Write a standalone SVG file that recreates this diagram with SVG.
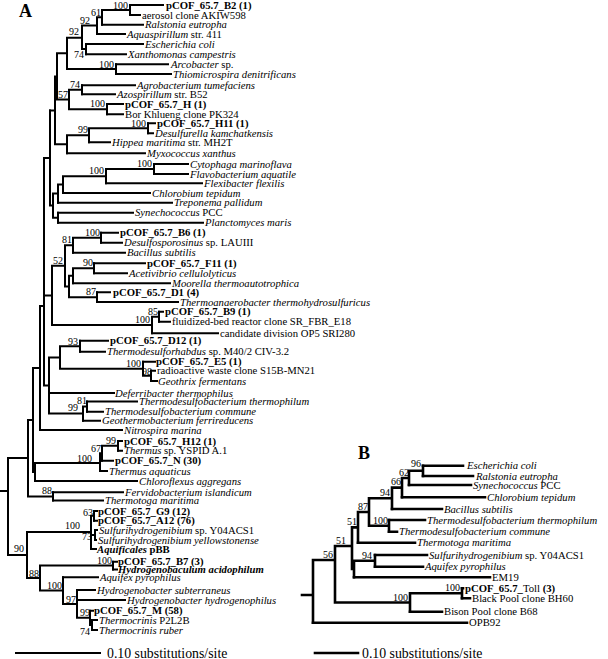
<svg xmlns="http://www.w3.org/2000/svg" width="608" height="659" viewBox="0 0 608 659">
<style>
text{font-family:"Liberation Serif","Times New Roman",serif;font-size:10.7px;fill:#000}
.i{font-style:italic}.bd{font-weight:bold}
.bs{font-size:10px;text-anchor:end}
.ttl{font-size:18px;font-weight:bold}
.sc{font-size:13.8px}
.ba path{stroke:#000;stroke-width:2;fill:none;stroke-linecap:square}
.bb path{stroke:#000;stroke-width:2.6;fill:none;stroke-linecap:square}
</style>
<rect width="608" height="659" fill="#fff"/>
<g id="connectors-A" class="ba">
<path d="M130,5H163M130,15H140M102,24.7H143M97,34H125M86,44H143M86,54.3H126M116,64.3H168M116,74H171M82,85.3H135M82,94.3H115M107,104H123M107,114.3H123M148,123.3H155M148,133.3H153M89,142.3H110M67,153.3H145M154,164H188M154,174H188M106,183.3H202M63,193H150M58,202.7H172M58,212.7H133M58,222.7H203M101,232.7H118M101,242.7H122M73,252.7H125M94,263.3H145M94,273.3H127M73,283.3H170M97,292.3H110M97,302H178M159,311.7H163M159,321.7H170M152,333.3H218M80,340.7H108M80,351.7H105M143,361.7H155M151,370.7H155M151,381H157M49,393H114M87,401.5H137M87,411.7H103M83,420.7H100M40,430H122M118,441H122M118,450.7H122M102,460.7H113M100,471H107M35,481H137M53,492.3H123M53,500.5H103M94,511H97M94,520.7H97M95,530H97M95,540H96M91,549H96M113,561.7H117M113,569.5H117M63,577.3H98M77,590H95M77,600H125M90,610.7H93M92,620H97M92,630H97"/>
<path d="M130,5V15M102,10H130M102,10V24.7M97,17.3H102M97,17.3V34M82,25.6H97M86,44V54.3M82,49H86M82,25.6V49M67,37.7H82M116,64.3V74M67,69H116M67,37.7V69M57,53.3H67M82,85.3V94.3M69,89.8H82M107,104V114.3M69,109.2H107M69,89.8V109.2M57,99.5H69M57,53.3V99.5M55,76.4H57M148,123.3V133.3M89,128.3H148M89,128.3V142.3M67,135.3H89M67,135.3V153.3M55,144.3H67M55,76.4V144.3M50,110.4H55"/>
<path d="M154,164V174M106,169H154M106,169V183.3M63,176.2H106M63,176.2V193M58,184.6H63M58,184.6V202.7M53,193.6H58M58,212.7V222.7M53,217.7H58M53,193.6V217.7M50,205.6H53M50,110.4V205.6M44,158H50"/>
<path d="M101,232.7V242.7M73,237.7H101M73,237.7V252.7M65,245.2H73M94,263.3V273.3M73,268.3H94M73,268.3V283.3M69,275.8H73M97,292.3V302M69,297.2H97M69,275.8V297.2M65,286.5H69M65,245.2V286.5M52,265.8H65M159,311.7V321.7M152,316.7H159M152,316.7V333.3M52,325H152M52,265.8V325M44,295.4H52"/>
<path d="M80,340.7V351.7M60,346.2H80M151,370.7V381M143,375.8H151M143,361.7V375.8M60,368.8H143M60,346.2V368.8M49,357.5H60M87,401.5V411.7M83,406.6H87M83,406.6V420.7M49,413.6H83M49,357.5V413.6M44,385.5H49M44,158V385.5M40,306H44M40,306V430M33,368H40"/>
<path d="M118,441V450.7M102,445.8H118M102,445.8V460.7M100,453.2H102M100,453.2V471M35,463H100M35,463V481M33,472H35M33,368V472M28,420H33M53,492.3V500.5M28,496.4H53M28,420V496.4M8,458H28"/>
<path d="M94,511V520.7M91,515.8H94M95,530V540M91,535H95M91,515.8V549M27,532H91M113,561.7V569.5M40,565.6H113M92,620V630M90,625H92M90,610.7V625M77,617.8H90M77,590V617.8M63,604H77M63,577.3V604M40,590.6H63M40,565.6V590.6M27,578H40M27,532V578M8,555H27M8,458V555M0,491H8"/>
<path d="M16,653H100"/>
</g>
<g id="connectors-B" class="bb">
<path d="M423,465.7H463M423,476H473M409,485H471M402,497.3H485M392,509H442M389,520H425M389,531.7H397M358,542.7H415M375,555H427M375,566.7H423M354,577.3H490M462,588.3H463M462,598.3H470M410,611.7H442M313,622.7H467"/>
<path d="M423,465.7V476M409,470.8H423M409,470.8V485M402,478H409M402,478V497.3M392,487.6H402M392,487.6V509M369,498.3H392M389,520V531.7M369,525.8H389M369,498.3V525.8M358,512H369M358,512V542.7M352,527.4H358M375,555V566.7M354,560.8H375M354,560.8V577.3M352,569H354M352,527.4V569M335,546H352M462,588.3V598.3M410,593.3H462M410,593.3V611.7M335,602.5H410M335,546V602.5M313,560H335M313,560V622.7M302,595H313"/>
<path d="M315,653H358"/>
</g>
<g id="title-A"><text class="ttl" x="19" y="17">A</text></g>
<g id="title-B"><text class="ttl" x="358" y="459">B</text></g>
<g id="leaves-A">
<g id="a1"><text x="166" y="8.7" class="bd">pCOF_65.7_B2 (1)</text></g>
<g id="a2"><text x="142" y="18.7">aerosol clone AKIW598</text></g>
<g id="a3"><text x="145" y="28.4" class="i">Ralstonia eutropha</text></g>
<g id="a4"><text x="127" y="37.7"><tspan class="i">Aquaspirillum</tspan> str. 411</text></g>
<g id="a5"><text x="145" y="47.7" class="i">Escherichia coli</text></g>
<g id="a6"><text x="128" y="58" class="i">Xanthomonas campestris</text></g>
<g id="a7"><text x="171" y="68"><tspan class="i">Arcobacter</tspan> sp.</text></g>
<g id="a8"><text x="173" y="77.7" class="i">Thiomicrospira denitrificans</text></g>
<g id="a9"><text x="137" y="89" class="i">Agrobacterium tumefaciens</text></g>
<g id="a10"><text x="117" y="98"><tspan class="i">Azospirillum</tspan> str. B52</text></g>
<g id="a11"><text x="125" y="107.7" class="bd">pCOF_65.7_H (1)</text></g>
<g id="a12"><text x="125" y="118">Bor Khlueng clone PK324</text></g>
<g id="a13"><text x="157" y="127" class="bd">pCOF_65.7_H11 (1)</text></g>
<g id="a14"><text x="155" y="137" class="i">Desulfurella kamchatkensis</text></g>
<g id="a15"><text x="112" y="146"><tspan class="i">Hippea maritima</tspan> str. MH2T</text></g>
<g id="a16"><text x="147" y="157" class="i">Myxococcus xanthus</text></g>
<g id="a17"><text x="190" y="167.7" class="i">Cytophaga marinoflava</text></g>
<g id="a18"><text x="190" y="177.7" class="i">Flavobacterium aquatile</text></g>
<g id="a19"><text x="204" y="187" class="i">Flexibacter flexilis</text></g>
<g id="a20"><text x="152" y="196.7" class="i">Chlorobium tepidum</text></g>
<g id="a21"><text x="174" y="206.4" class="i">Treponema pallidum</text></g>
<g id="a22"><text x="135" y="216.4"><tspan class="i">Synechococcus</tspan> PCC</text></g>
<g id="a23"><text x="205" y="226.4" class="i">Planctomyces maris</text></g>
<g id="a24"><text x="120" y="236.4" class="bd">pCOF_65.7_B6 (1)</text></g>
<g id="a25"><text x="124" y="246.4"><tspan class="i">Desulfosporosinus</tspan> sp. LAUIII</text></g>
<g id="a26"><text x="127" y="256.4" class="i">Bacillus subtilis</text></g>
<g id="a27"><text x="147" y="267" class="bd">pCOF_65.7_F11 (1)</text></g>
<g id="a28"><text x="129" y="277" class="i">Acetivibrio cellulolyticus</text></g>
<g id="a29"><text x="172" y="287" class="i">Moorella thermoautotrophica</text></g>
<g id="a30"><text x="113" y="296" class="bd">pCOF_65.7_D1 (4)</text></g>
<g id="a31"><text x="180" y="305.7" class="i">Thermoanaerobacter thermohydrosulfuricus</text></g>
<g id="a32"><text x="165" y="315.4" class="bd">pCOF_65.7_B9 (1)</text></g>
<g id="a33"><text x="172" y="325.4">fluidized-bed reactor clone SR_FBR_E18</text></g>
<g id="a34"><text x="220" y="337">candidate division OP5 SRI280</text></g>
<g id="a35"><text x="110" y="344.4" class="bd">pCOF_65.7_D12 (1)</text></g>
<g id="a36"><text x="107" y="355.4"><tspan class="i">Thermodesulforhabdus</tspan> sp. M40/2 CIV-3.2</text></g>
<g id="a37"><text x="156" y="365.4" class="bd">pCOF_65.7_E5 (1)</text></g>
<g id="a38"><text x="157" y="374.4">radioactive waste clone S15B-MN21</text></g>
<g id="a39"><text x="158" y="384.7" class="i">Geothrix fermentans</text></g>
<g id="a40"><text x="115" y="396.7" class="i">Deferribacter thermophilus</text></g>
<g id="a41"><text x="139" y="405.2" class="i">Thermodesulfobacterium thermophilum</text></g>
<g id="a42"><text x="105" y="415.4" class="i">Thermodesulfobacterium commune</text></g>
<g id="a43"><text x="102" y="424.4" class="i">Geothermobacterium ferrireducens</text></g>
<g id="a44"><text x="124" y="433.7" class="i">Nitrospira marina</text></g>
<g id="a45"><text x="124" y="444.7" class="bd">pCOF_65.7_H12 (1)</text></g>
<g id="a46"><text x="124" y="454.4"><tspan class="i">Thermus</tspan> sp. YSPID A.1</text></g>
<g id="a47"><text x="115" y="464.4" class="bd">pCOF_65.7_N (30)</text></g>
<g id="a48"><text x="109" y="474.7" class="i">Thermus aquaticus</text></g>
<g id="a49"><text x="139" y="484.7" class="i">Chloroflexus aggregans</text></g>
<g id="a50"><text x="125" y="496" class="i">Fervidobacterium islandicum</text></g>
<g id="a51"><text x="105" y="504.2" class="i">Thermotoga maritima</text></g>
<g id="a52"><text x="98" y="514.7" class="bd">pCOF_65.7_G9 (12)</text></g>
<g id="a53"><text x="98" y="524.4" class="bd">pCOF_65.7_A12 (76)</text></g>
<g id="a54"><text x="99" y="533.7"><tspan class="i">Sulfurihydrogenibium</tspan> sp. Y04ACS1</text></g>
<g id="a55"><text x="98" y="543.7" class="i">Sulfurihydrogenibium yellowstonense</text></g>
<g id="a56"><text x="97" y="552.7" class="bd"><tspan class="i">Aquificales</tspan> pBB</text></g>
<g id="a57"><text x="118" y="565.4" class="bd">pCOF_65.7_B7 (3)</text></g>
<g id="a58"><text x="118" y="573.2" class="bd i">Hydrogenobaculum acidophilum</text></g>
<g id="a59"><text x="100" y="581" class="i">Aquifex pyrophilus</text></g>
<g id="a60"><text x="97" y="593.7" class="i">Hydrogenobacter subterraneus</text></g>
<g id="a61"><text x="127" y="603.7" class="i">Hydrogenobacter hydrogenophilus</text></g>
<g id="a62"><text x="94" y="614.4" class="bd">pCOF_65.7_M (58)</text></g>
<g id="a63"><text x="99" y="623.7"><tspan class="i">Thermocrinis</tspan> P2L2B</text></g>
<g id="a64"><text x="99" y="633.7" class="i">Thermocrinis ruber</text></g>
</g>
<g id="support-A">
<text class="bs" x="128" y="8.5">100</text>
<text class="bs" x="101" y="15.5">61</text>
<text class="bs" x="90" y="24">92</text>
<text class="bs" x="84" y="57.5">74</text>
<text class="bs" x="79" y="35">92</text>
<text class="bs" x="114" y="67.5">100</text>
<text class="bs" x="80" y="88">74</text>
<text class="bs" x="68" y="97.5">57</text>
<text class="bs" x="105" y="107">100</text>
<text class="bs" x="146" y="126.5">100</text>
<text class="bs" x="88" y="133">99</text>
<text class="bs" x="152" y="166.5">100</text>
<text class="bs" x="104" y="174">100</text>
<text class="bs" x="100" y="236">100</text>
<text class="bs" x="72" y="243">81</text>
<text class="bs" x="63" y="263.5">52</text>
<text class="bs" x="93" y="266">90</text>
<text class="bs" x="96" y="295">87</text>
<text class="bs" x="158" y="315">85</text>
<text class="bs" x="150" y="323">100</text>
<text class="bs" x="78" y="344.5">93</text>
<text class="bs" x="141" y="366.7">100</text>
<text class="bs" x="152" y="375">98</text>
<text class="bs" x="87" y="403.5">81</text>
<text class="bs" x="78" y="411">99</text>
<text class="bs" x="116" y="443.5">99</text>
<text class="bs" x="101" y="452">67</text>
<text class="bs" x="92" y="462">100</text>
<text class="bs" x="52" y="493.5">88</text>
<text class="bs" x="93" y="516">63</text>
<text class="bs" x="80" y="529">100</text>
<text class="bs" x="92" y="539.5">73</text>
<text class="bs" x="24" y="551.5">90</text>
<text class="bs" x="112" y="564">100</text>
<text class="bs" x="39" y="577">88</text>
<text class="bs" x="62" y="589">100</text>
<text class="bs" x="76" y="602.5">97</text>
<text class="bs" x="90" y="616">99</text>
<text class="bs" x="90" y="635">74</text>
</g>
<g id="scale-A"><text class="sc" x="107" y="657.5">0.10 substitutions/site</text></g>
<g id="leaves-B">
<g id="b1"><text x="467" y="469.4" class="i">Escherichia coli</text></g>
<g id="b2"><text x="476" y="479.7" class="i">Ralstonia eutropha</text></g>
<g id="b3"><text x="473" y="488.7"><tspan class="i">Synechococcus</tspan> PCC</text></g>
<g id="b4"><text x="487" y="501" class="i">Chlorobium tepidum</text></g>
<g id="b5"><text x="444" y="512.7" class="i">Bacillus subtilis</text></g>
<g id="b6"><text x="427" y="523.7" class="i">Thermodesulfobacterium thermophilum</text></g>
<g id="b7"><text x="399" y="535.4" class="i">Thermodesulfobacterium commune</text></g>
<g id="b8"><text x="417" y="546.4" class="i">Thermotoga maritima</text></g>
<g id="b9"><text x="429" y="558.7"><tspan class="i">Sulfurihydrogenibium</tspan> sp. Y04ACS1</text></g>
<g id="b10"><text x="425" y="570.4" class="i">Aquifex pyrophilus</text></g>
<g id="b11"><text x="492" y="581">EM19</text></g>
<g id="b12"><text x="465" y="592"><tspan class="bd">pCOF_65.7_</tspan>Toll <tspan class="bd">(3)</tspan></text></g>
<g id="b13"><text x="472" y="602">Black Pool clone BH60</text></g>
<g id="b14"><text x="444" y="615.4">Bison Pool clone B68</text></g>
<g id="b15"><text x="469" y="626.4">OPB92</text></g>
</g>
<g id="support-B">
<text class="bs" x="421" y="467">96</text>
<text class="bs" x="409" y="476">62</text>
<text class="bs" x="401" y="485">66</text>
<text class="bs" x="390" y="496">94</text>
<text class="bs" x="368" y="510">87</text>
<text class="bs" x="388" y="523.5">100</text>
<text class="bs" x="357" y="525">51</text>
<text class="bs" x="346" y="544">51</text>
<text class="bs" x="372" y="559">94</text>
<text class="bs" x="460" y="591">100</text>
<text class="bs" x="408" y="600.5">100</text>
<text class="bs" x="333" y="558">56</text>
</g>
<g id="scale-B"><text class="sc" x="362" y="657.5">0.10 substitutions/site</text></g>
</svg>
